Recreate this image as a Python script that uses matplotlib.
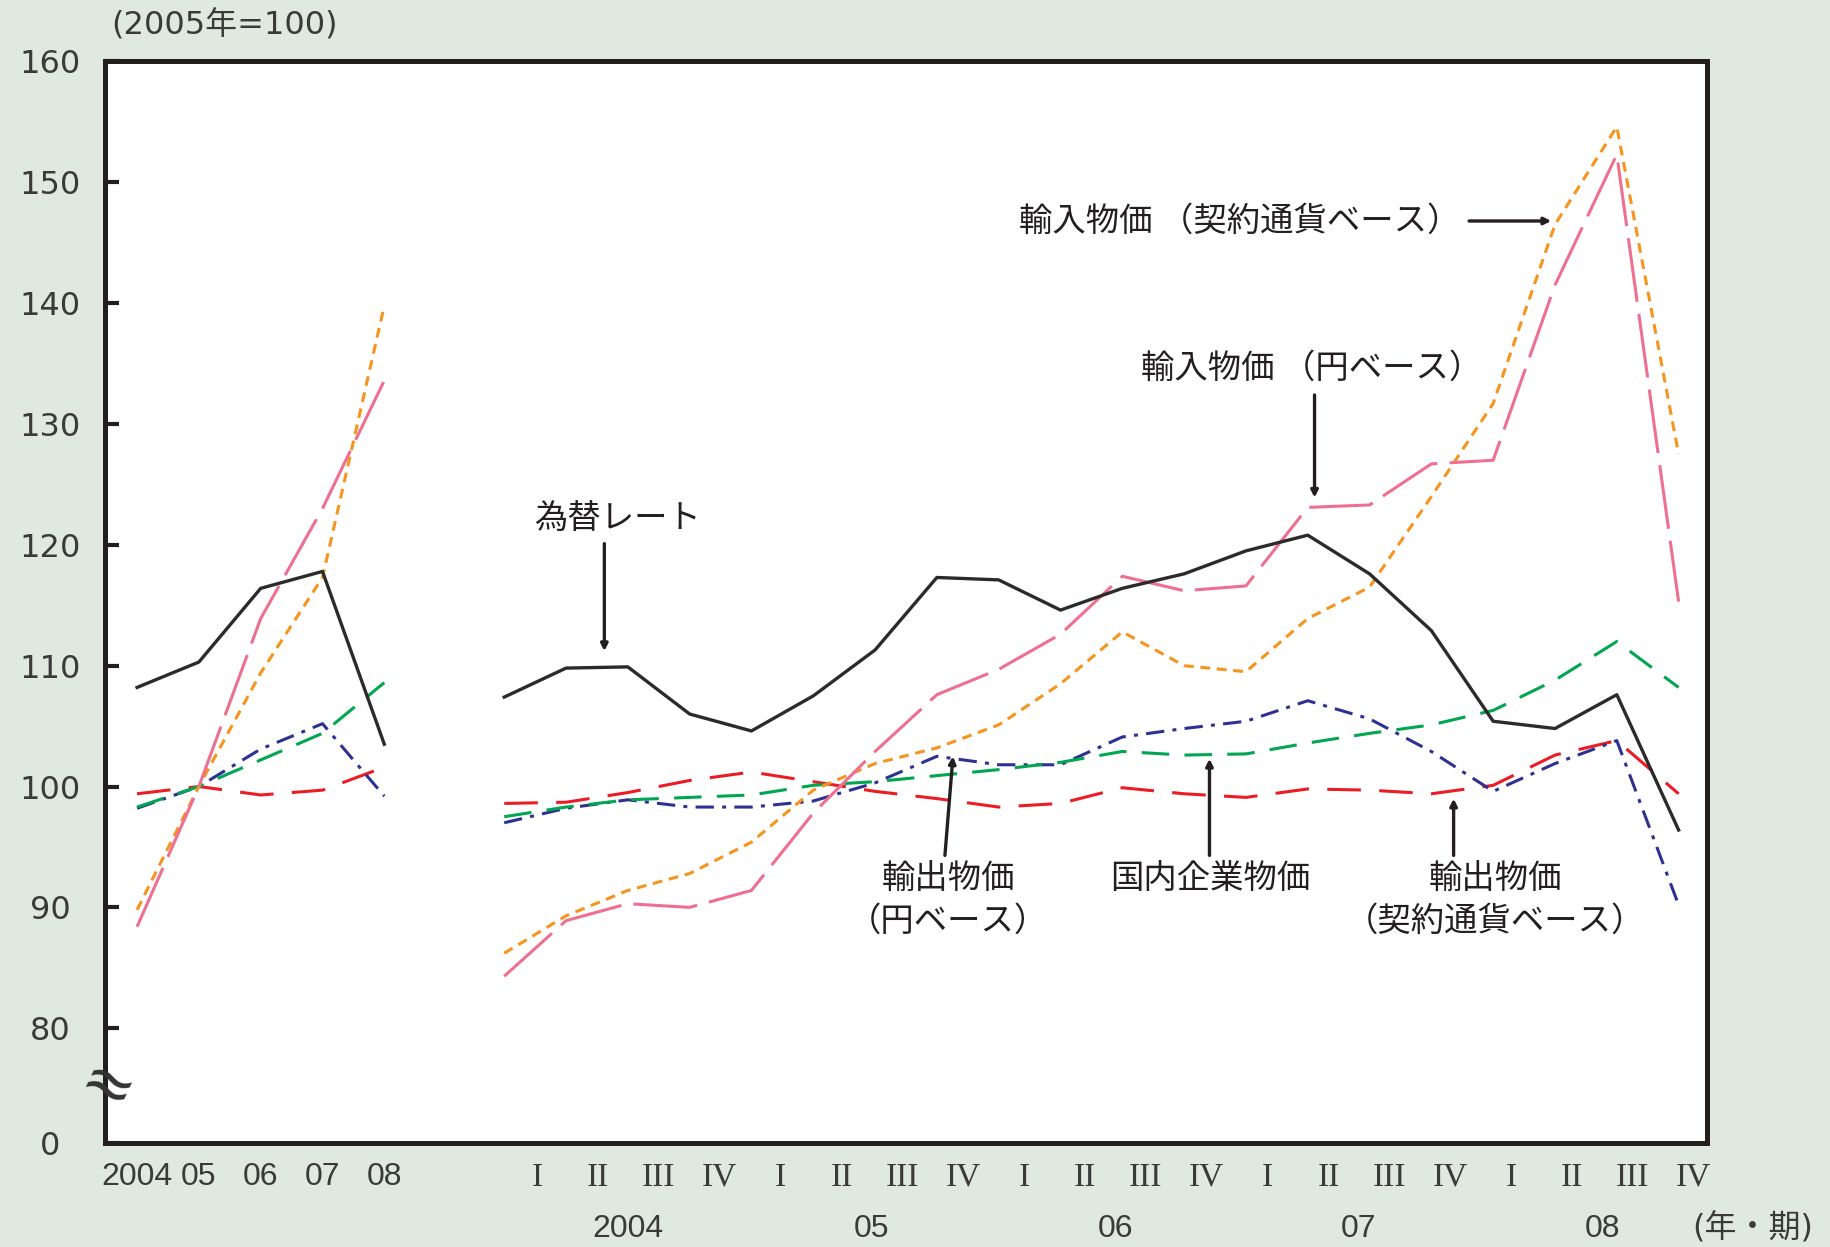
import matplotlib
matplotlib.use('Agg')
import matplotlib.pyplot as plt
from matplotlib.transforms import blended_transform_factory

# ---- data (2005 = 100) ----
annual_labels = ['2004', '05', '06', '07', '08']
quarter_labels = ['I', 'II', 'III', 'IV'] * 5
year_labels = ['2004', '05', '06', '07', '08']

# annual series 2004-2008
fx_rate_y = [108.2, 110.3, 116.4, 117.8, 103.5]
imp_yen_y = [88.4, 100.0, 113.9, 123.0, 133.6]
imp_contract_y = [89.8, 100.0, 109.4, 117.3, 139.8]
cgpi_y = [98.3, 100.0, 102.2, 104.4, 108.6]
exp_yen_y = [98.2, 100.0, 103.1, 105.2, 99.2]
exp_contract_y = [99.4, 100.0, 99.3, 99.7, 101.6]

# quarterly series 2004Q1-2008Q4
fx_rate_q = [107.4, 109.8, 109.9, 106.0, 104.6, 107.5, 111.3, 117.3, 117.1, 114.6,
             116.4, 117.6, 119.5, 120.8, 117.6, 112.9, 105.4, 104.8, 107.6, 96.4]
imp_yen_q = [84.3, 88.9, 90.3, 90.0, 91.4, 97.8, 102.9, 107.6, 109.7, 112.6,
             117.4, 116.2, 116.6, 123.1, 123.3, 126.7, 127.0, 141.5, 152.3, 115.3]
imp_contract_q = [86.2, 89.3, 91.4, 92.8, 95.4, 99.7, 101.9, 103.2, 105.1, 108.5,
                  112.8, 110.0, 109.5, 113.9, 116.5, 124.0, 131.7, 146.5, 154.6, 127.5]
cgpi_q = [97.5, 98.3, 98.9, 99.1, 99.3, 100.1, 100.4, 100.9, 101.4, 102.0,
          102.9, 102.6, 102.7, 103.6, 104.4, 105.1, 106.3, 108.8, 112.0, 108.2]
exp_yen_q = [97.0, 98.2, 98.9, 98.3, 98.3, 98.8, 100.3, 102.5, 101.8, 101.8,
             104.1, 104.8, 105.4, 107.1, 105.6, 102.9, 99.6, 101.9, 103.8, 90.2]
exp_contract_q = [98.6, 98.7, 99.5, 100.5, 101.2, 100.4, 99.6, 99.0, 98.3, 98.6,
                  99.9, 99.4, 99.1, 99.8, 99.7, 99.4, 100.1, 102.6, 103.8, 99.4]

ytick_vals = [70.5, 80, 90, 100, 110, 120, 130, 140, 150, 160]
ytick_text = ['0', '80', '90', '100', '110', '120', '130', '140', '150', '160']

# positions on one shared x axis
x_annual = list(range(5))
x_quarter = [5.94 + i for i in range(20)]
x_qlabel = [6.47 + 0.985 * i for i in range(20)]
x_year = [(x_qlabel[4 * k + 1] + x_qlabel[4 * k + 2]) / 2 for k in range(5)]

BG = '#dfe9df'
INK = '#231f20'
TXT = '#3a3a3a'
JP = ['Noto Sans CJK JP', 'DejaVu Sans']

fig = plt.figure(figsize=(18.31, 12.47), dpi=100, facecolor=BG)
ax = fig.add_axes([0.0571, 0.0834, 0.9323 - 0.0571, 0.9507 - 0.0834])
ax.set_facecolor('white')

styles = {
    'fx': dict(color='#2b2b2b', lw=2.4, linestyle='-'),
    'imp_yen': dict(color='#ef6f91', lw=2.2, dashes=(21, 4)),
    'imp_contract': dict(color='#f7941d', lw=2.2, dashes=(3.2, 2.2)),
    'cgpi': dict(color='#00a650', lw=2.2, dashes=(9, 5)),
    'exp_yen': dict(color='#2e3192', lw=2.2, dashes=(6, 2.7, 1.3, 2.7)),
    'exp_contract': dict(color='#ed1c24', lw=2.2, dashes=(11, 6)),
}
series = [
    ('exp_contract', exp_contract_y, exp_contract_q),
    ('exp_yen', exp_yen_y, exp_yen_q),
    ('cgpi', cgpi_y, cgpi_q),
    ('imp_contract', imp_contract_y, imp_contract_q),
    ('imp_yen', imp_yen_y, imp_yen_q),
    ('fx', fx_rate_y, fx_rate_q),
]
for key, ya, yq in series:
    ax.plot(x_annual, ya, **styles[key])
    ax.plot(x_quarter, yq, **styles[key])

ax.set_xlim(-0.526, 25.40)
ax.set_ylim(70.5, 160)

for s in ax.spines.values():
    s.set_linewidth(3.6)
    s.set_color(INK)

ax.set_yticks(ytick_vals)
ax.set_yticklabels(ytick_text, fontsize=23, color=TXT, ha='center', family='DejaVu Sans')
ax.tick_params(axis='y', direction='in', length=10, width=3, color=INK, pad=39)

ax.set_xticks(x_annual + x_qlabel)
ax.set_xticklabels(annual_labels + quarter_labels, fontsize=23, color=TXT)
ax.tick_params(axis='x', length=0, pad=14)
for i, lab in enumerate(ax.get_xticklabels()):
    lab.set_family('Liberation Sans' if i < 5 else 'Liberation Serif')
    if i >= 5:
        lab.set_fontsize(24)

trans = blended_transform_factory(ax.transData, ax.transAxes)
for xp, lab in zip(x_year, year_labels):
    ax.text(xp, -0.0795, lab, transform=trans, ha='center', va='center',
            fontsize=23, color=TXT, family='Liberation Sans')
ax.text(1.0287, -0.0795, '(年・期)', transform=ax.transAxes, ha='center', va='center',
        fontsize=23, color=TXT, family=['DejaVu Sans', 'Noto Sans CJK JP'])

fig.text(111 / 1831, 1 - 26 / 1247, '(2005年=100)', ha='left', va='center',
         fontsize=23, color=TXT, family=['DejaVu Sans', 'Noto Sans CJK JP'])

# axis break mark
fig.text(107 / 1831, 1 - 1088 / 1247, '≈', ha='center', va='center', fontsize=46,
         rotation=-25, color='#333333', family='DejaVu Sans')

# annotations
arrow = dict(arrowstyle='-|>', lw=2.4, color=INK, mutation_scale=10, shrinkA=0, shrinkB=0)
akw = dict(fontsize=24, color=INK, family=JP, ha='center', va='center', linespacing=1.25)

ax.text(21.41, 146.8, '輸入物価 （契約通貨ベース）', **dict(akw, ha='right'))
ax.annotate('', xy=(22.88, 146.8), xytext=(21.55, 146.8), arrowprops=arrow)

ax.text(19.0, 134.6, '輸入物価 （円ベース）', **akw)
ax.annotate('', xy=(19.05, 123.9), xytext=(19.05, 132.4), arrowprops=arrow)

ax.text(7.78, 122.2, '為替レート', **akw)
ax.annotate('', xy=(7.56, 111.2), xytext=(7.56, 120.1), arrowprops=arrow)

ax.text(13.12, 90.6, '輸出物価\n（円ベース）', **akw)
ax.annotate('', xy=(13.2, 102.5), xytext=(13.07, 94.3), arrowprops=arrow)

ax.text(17.36, 92.4, '国内企業物価', **akw)
ax.annotate('', xy=(17.35, 102.3), xytext=(17.35, 94.3), arrowprops=arrow)

ax.text(21.97, 90.6, '輸出物価\n（契約通貨ベース）', **akw)
ax.annotate('', xy=(21.3, 99.0), xytext=(21.3, 94.3), arrowprops=arrow)

fig.savefig('out.png', dpi=100, facecolor=BG)
